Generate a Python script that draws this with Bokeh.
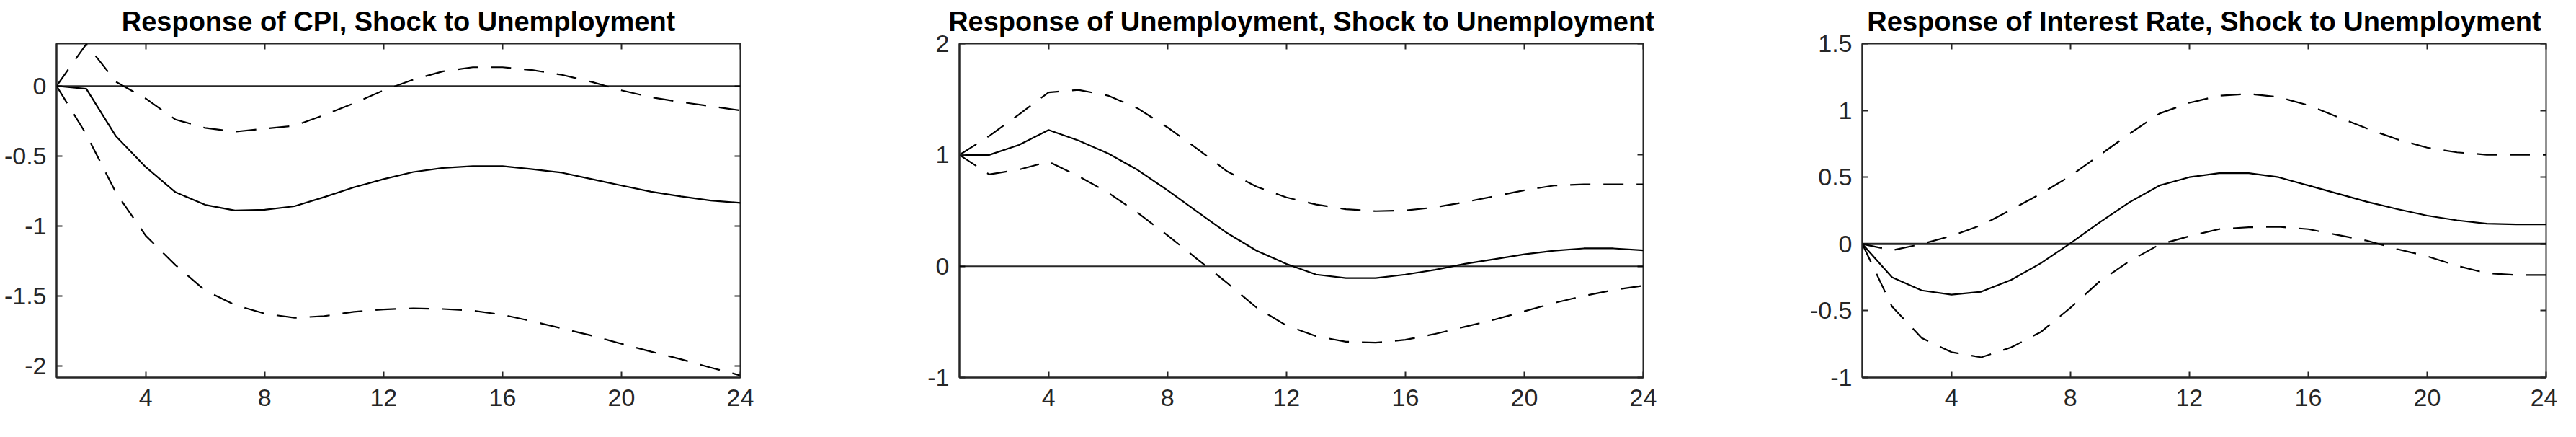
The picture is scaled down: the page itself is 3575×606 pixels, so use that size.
from bokeh.plotting import figure
from bokeh.layouts import row
from bokeh.models import (Range1d, FixedTicker, LinearAxis, Span, PrintfTickFormatter,
                          CustomLabelingPolicy)
from bokeh.embed import file_html
from bokeh.resources import INLINE

# ---- data (periods 1..24) ----
periods = list(range(1, 25))

titles = [
    "Response of CPI, Shock to Unemployment",
    "Response of Unemployment, Shock to Unemployment",
    "Response of Interest Rate, Shock to Unemployment",
]

x_ticks = [4, 8, 12, 16, 20, 24]

cpi_ticks = [-2, -1.5, -1, -0.5, 0]
unemp_ticks = [-1, 0, 1, 2]
rate_ticks = [-1, -0.5, 0, 0.5, 1, 1.5]

cpi_limits = [-2.085, 0.303]
unemp_limits = [-1, 2]
rate_limits = [-1, 1.5]

cpi_med = [0, -0.02, -0.36, -0.58, -0.76, -0.85, -0.89, -0.885, -0.86, -0.795, -0.725, -0.666,
           -0.615, -0.586, -0.573, -0.573, -0.595, -0.62, -0.666, -0.712, -0.756, -0.79, -0.819, -0.836]
cpi_up = [0, 0.30, 0.03, -0.09, -0.24, -0.30, -0.327, -0.305, -0.285, -0.208, -0.124, -0.031,
          0.046, 0.105, 0.134, 0.134, 0.114, 0.08, 0.029, -0.031, -0.081, -0.115, -0.144, -0.175]
cpi_lo = [0, -0.346, -0.764, -1.071, -1.281, -1.463, -1.566, -1.628, -1.658, -1.646, -1.615, -1.598,
          -1.59, -1.595, -1.607, -1.636, -1.683, -1.734, -1.785, -1.844, -1.9, -1.954, -2.014, -2.07]

unemp_med = [1.0, 1.0, 1.09, 1.224, 1.13, 1.013, 0.864, 0.682, 0.49, 0.299, 0.139, 0.021,
             -0.075, -0.107, -0.107, -0.075, -0.032, 0.021, 0.064, 0.107, 0.139, 0.16, 0.16, 0.143]
unemp_up = [1.0, 1.17, 1.363, 1.562, 1.585, 1.533, 1.418, 1.247, 1.055, 0.853, 0.714, 0.618,
            0.554, 0.512, 0.495, 0.501, 0.529, 0.576, 0.629, 0.682, 0.725, 0.736, 0.736, 0.736]
unemp_lo = [1.0, 0.825, 0.868, 0.94, 0.81, 0.661, 0.48, 0.277, 0.064, -0.149, -0.373, -0.533,
            -0.629, -0.678, -0.687, -0.661, -0.608, -0.544, -0.48, -0.405, -0.33, -0.267, -0.213, -0.175]

rate_med = [0, -0.25, -0.348, -0.38, -0.358, -0.27, -0.145, 0.005, 0.164, 0.314, 0.438, 0.5,
            0.53, 0.53, 0.5, 0.438, 0.376, 0.314, 0.261, 0.212, 0.177, 0.152, 0.147, 0.147]
rate_up = [0, -0.048, 0.0, 0.06, 0.14, 0.255, 0.376, 0.509, 0.668, 0.827, 0.977, 1.057,
           1.11, 1.124, 1.10, 1.039, 0.95, 0.862, 0.783, 0.721, 0.686, 0.668, 0.668, 0.668]
rate_lo = [0, -0.468, -0.704, -0.81, -0.849, -0.775, -0.66, -0.478, -0.277, -0.127, -0.004, 0.058,
           0.111, 0.125, 0.129, 0.111, 0.067, 0.023, -0.039, -0.092, -0.163, -0.219, -0.233, -0.233]

FONT = "Liberation Sans"
AXC = "#262626"
DASH = "28 18"


def mirror_axis(ticks):
    # tick marks only (box-style axes), no labels drawn
    return LinearAxis(ticker=FixedTicker(ticks=ticks),
                      major_label_policy=CustomLabelingPolicy(code="return []"),
                      major_label_text_font_size="1px",
                      major_label_standoff=0, major_tick_in=8, major_tick_out=0,
                      major_tick_line_color=AXC, major_tick_line_width=2,
                      minor_tick_line_color=None, axis_line_color=None)


def make_panel(title, med, up, lo, yticks, ylim, border_right, zero_width):
    p = figure(width=78 + 949 + border_right, height=580,
               x_range=Range1d(periods[0], periods[-1]), y_range=Range1d(ylim[0], ylim[1]),
               output_backend="svg", toolbar_location=None,
               min_border_left=78, min_border_right=border_right,
               min_border_top=53, min_border_bottom=57,
               background_fill_color="white", border_fill_color="white")
    p.grid.visible = False
    p.outline_line_color = AXC
    p.outline_line_width = 2

    p.title.text = title
    p.title.align = "center"
    p.title.text_font = FONT
    p.title.text_font_size = "38px"
    p.title.text_font_style = "bold"
    p.title.text_color = "black"
    p.title.standoff = 12

    for ax in p.xaxis:
        ax.ticker = FixedTicker(ticks=x_ticks)
    for ax in p.yaxis:
        ax.ticker = FixedTicker(ticks=yticks)
        ax.formatter = PrintfTickFormatter(format="%g")

    for ax in list(p.xaxis) + list(p.yaxis):
        ax.axis_line_color = AXC
        ax.axis_line_width = 2
        ax.major_tick_in = 8
        ax.major_tick_out = 0
        ax.major_tick_line_color = AXC
        ax.major_tick_line_width = 2
        ax.minor_tick_line_color = None
        ax.major_label_text_font = FONT
        ax.major_label_text_font_size = "34px"
        ax.major_label_text_color = AXC
    p.xaxis.major_label_standoff = 16
    p.yaxis.major_label_standoff = 14

    p.add_layout(mirror_axis(x_ticks), "above")
    p.add_layout(mirror_axis(yticks), "right")

    p.add_layout(Span(location=0, dimension="width", line_color="black",
                      line_width=zero_width, line_alpha=0.85))

    p.line(periods, med, line_color="black", line_width=2.2)
    p.line(periods, up, line_color="black", line_width=2.2, line_dash=DASH)
    p.line(periods, lo, line_color="black", line_width=2.2, line_dash=DASH)
    return p


p1 = make_panel(titles[0], cpi_med, cpi_up, cpi_lo, cpi_ticks, cpi_limits, 226, 2)
p2 = make_panel(titles[1], unemp_med, unemp_up, unemp_lo, unemp_ticks, unemp_limits, 226, 2)
p3 = make_panel(titles[2], rate_med, rate_up, rate_lo, rate_ticks, rate_limits, 16, 3)

layout = row(p1, p2, p3)

open("out.html", "w").write(file_html(layout, INLINE))
